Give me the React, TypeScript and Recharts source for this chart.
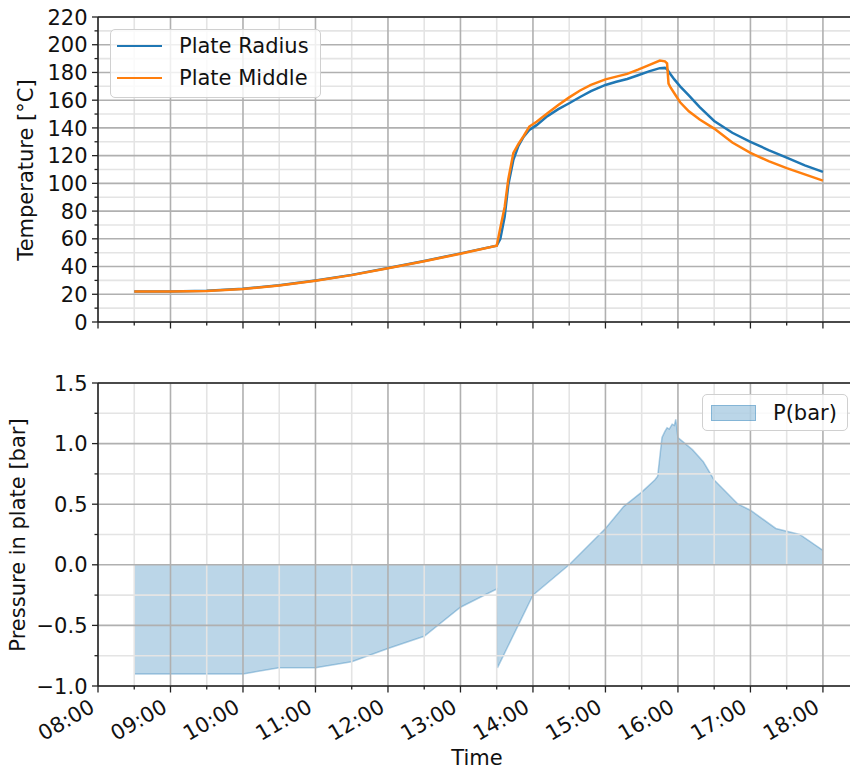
import React from 'react';
import { LineChart, Line, AreaChart, Area, XAxis, YAxis, ReferenceLine, Legend } from 'recharts';

const FONT = '"DejaVu Sans", sans-serif';
const INK = '#111';
const SPINE = '#222';
const GRID_MAJOR = '#b0b0b0';
const GRID_MINOR = '#e4e4e4';
const BLUE = '#1f77b4';
const ORANGE = '#ff7f0e';

// temperature log (time in decimal hours)
const tempHours = [
  8.5, 9, 9.5, 10, 10.5, 11, 11.5, 12, 12.5, 13, 13.5,
  13.55, 13.61, 13.66, 13.73, 13.8, 13.87, 13.95, 14.05, 14.2, 14.35, 14.5, 14.65, 14.8,
  15, 15.15, 15.3, 15.45, 15.6, 15.75, 15.82, 15.85, 15.87, 15.9, 15.95,
  16.03, 16.15, 16.3, 16.5, 16.75, 17, 17.25, 17.5, 17.75, 18,
];
const plateRadius = [
  22, 22, 22.5, 24, 26.5, 30, 34, 39, 44, 49.5, 55,
  60, 76, 99, 117, 127, 133.5, 138.5, 142, 148.5, 153.5, 157.8, 162.3, 166.5,
  171, 173.3, 175.3, 178, 180.8, 183.1, 183.3, 182.3, 180.8, 178.5, 175,
  170, 163.5, 155, 145, 136.5, 130, 124, 118.5, 113, 108.3,
];
const plateMiddle = [
  22, 22, 22.3, 23.8, 26.3, 29.8, 33.8, 38.8, 43.8, 49.3, 55,
  68, 83, 103, 122, 128.5, 134, 141, 144.5, 150.5, 156.5, 162, 167, 171,
  175, 177, 179, 182, 185.3, 188.6, 188, 186.5, 172, 169, 165,
  158.5, 152, 146, 139.5, 129.5, 122, 116, 111, 106.5, 102,
];

// pressure log
const pressureHours = [
  8.5, 10, 10.5, 11, 11.5, 12, 12.5, 13, 13.5, 13.51, 14, 14.5, 15, 15.25, 15.5, 15.68,
  15.72, 15.78, 15.82, 15.85, 15.88, 15.92, 15.95, 15.97, 16, 16.2, 16.35, 16.5, 16.83,
  17, 17.35, 17.68, 18,
];
const pressureBar = [
  -0.9, -0.9, -0.85, -0.85, -0.8, -0.69, -0.59, -0.35, -0.2, -0.85, -0.25, 0, 0.3, 0.48, 0.6, 0.7,
  0.73, 1.05, 1.1, 1.13, 1.12, 1.16, 1.15, 1.2, 1.05, 0.95, 0.85, 0.7, 0.5,
  0.45, 0.3, 0.25, 0.12,
];

const hourTicks = [8, 9, 10, 11, 12, 13, 14, 15, 16, 17, 18];
const hourLabels = ['08:00', '09:00', '10:00', '11:00', '12:00', '13:00', '14:00', '15:00', '16:00', '17:00', '18:00'];
const halfHourTicks = [8.5, 9.5, 10.5, 11.5, 12.5, 13.5, 14.5, 15.5, 16.5, 17.5];
const tempTicks = [0, 20, 40, 60, 80, 100, 120, 140, 160, 180, 200, 220];
const tempMinorTicks = [10, 30, 50, 70, 90, 110, 130, 150, 170, 190, 210];
const pressureTicks = [-1, -0.5, 0, 0.5, 1, 1.5];
const pressureMinorTicks = [-0.75, -0.25, 0.25, 0.75, 1.25];

const tempData = tempHours.map((t, i) => ({ t, radius: plateRadius[i], middle: plateMiddle[i] }));
const pressureData = pressureHours.map((t, i) => ({ t, p: pressureBar[i] }));

const X_DOMAIN: [number, number] = [8, 18.47];
const CHART_W = 857;

const fmtPressure = (v: number) => v.toFixed(1).replace('-', '\u2212');

function TimeTick(props: any) {
  const { x, y, payload, withLabel } = props;
  const i = hourTicks.indexOf(payload.value);
  const major = i >= 0;
  const lx = x - 2;
  const ly = y + 25;
  return (
    <g>
      <line x1={x} x2={x} y1={y} y2={y + (major ? 6.5 : 3.5)} stroke={SPINE} strokeWidth={1.3} />
      {withLabel && major && (
        <text x={lx} y={ly} transform={`rotate(-30 ${lx} ${ly})`} textAnchor="end"
          fontSize={21} fill={INK} fontFamily={FONT}>
          {hourLabels[i]}
        </text>
      )}
    </g>
  );
}

function ValueTick(props: any) {
  const { x, y, payload, majors, format } = props;
  const major = majors.includes(payload.value);
  return (
    <g>
      <line x1={x - (major ? 6 : 3.5)} x2={x} y1={y} y2={y} stroke={SPINE} strokeWidth={1.3} />
      {major && (
        <text x={x - 10.5} y={y + 7.6} textAnchor="end" fontSize={21} fill={INK} fontFamily={FONT}>
          {format(payload.value)}
        </text>
      )}
    </g>
  );
}

function gridLines(xMinor: number[], xMajor: number[], yMinor: number[], yMajor: number[]) {
  return [
    ...xMinor.map((v) => <ReferenceLine key={`xm${v}`} x={v} stroke={GRID_MINOR} strokeWidth={1.6} />),
    ...yMinor.map((v) => <ReferenceLine key={`ym${v}`} y={v} stroke={GRID_MINOR} strokeWidth={1.6} />),
    ...xMajor.map((v) => <ReferenceLine key={`xM${v}`} x={v} stroke={GRID_MAJOR} strokeWidth={1.6} />),
    ...yMajor.map((v) => <ReferenceLine key={`yM${v}`} y={v} stroke={GRID_MAJOR} strokeWidth={1.6} />),
  ];
}

const legendBox: React.CSSProperties = {
  boxSizing: 'border-box',
  background: 'rgba(255,255,255,0.8)',
  border: '1px solid #d0d0d0',
  borderRadius: 5,
  fontFamily: FONT,
  fontSize: 21,
  color: INK,
};

function TempLegend() {
  const rows = [
    { name: 'Plate Radius', color: BLUE },
    { name: 'Plate Middle', color: ORANGE },
  ];
  return (
    <div style={{ ...legendBox, width: 211, height: 69 }}>
      {rows.map((r) => (
        <div key={r.name} style={{ display: 'flex', alignItems: 'center', height: 32 }}>
          <div style={{ marginLeft: 6, width: 45, height: 2.5, background: r.color }} />
          <span style={{ marginLeft: 17, lineHeight: '32px' }}>{r.name}</span>
        </div>
      ))}
    </div>
  );
}

function PressureLegend() {
  return (
    <div style={{ ...legendBox, width: 146, height: 37, display: 'flex', alignItems: 'center' }}>
      <div style={{
        marginLeft: 8, width: 45, height: 16, boxSizing: 'border-box',
        background: 'rgba(31,119,180,0.3)', border: '1px solid rgba(31,119,180,0.35)',
      }} />
      <span style={{ marginLeft: 17 }}>P(bar)</span>
    </div>
  );
}

export default function App() {
  return (
    <div style={{
      position: 'absolute', left: 0, top: 0, width: 850, height: 771,
      overflow: 'hidden', background: '#fff', fontFamily: FONT,
    }}>
      <div style={{ position: 'absolute', left: 0, top: 0 }}>
        <LineChart width={CHART_W} height={345} data={tempData}
          margin={{ top: 17, right: 0, bottom: 22, left: 0 }}>
          <XAxis dataKey="t" type="number" domain={X_DOMAIN} allowDataOverflow
            ticks={[...hourTicks, ...halfHourTicks]} interval={0} height={1}
            tickSize={0} tickMargin={0} tickLine={false}
            axisLine={{ stroke: SPINE, strokeWidth: 1.5 }}
            tick={(p: any) => <TimeTick {...p} withLabel={false} />} />
          <YAxis type="number" domain={[0, 220]} allowDataOverflow width={98}
            ticks={[...tempTicks, ...tempMinorTicks]} interval={0}
            tickSize={0} tickMargin={0} tickLine={false}
            axisLine={{ stroke: SPINE, strokeWidth: 1.5 }}
            tick={(p: any) => <ValueTick {...p} majors={tempTicks} format={(v: number) => String(v)} />}
            label={() => (
              <text x={33} y={170} transform="rotate(-90 33 170)" textAnchor="middle"
                fontSize={21} fill={INK} fontFamily={FONT}>
                Temperature [°C]
              </text>
            )} />
          {gridLines(halfHourTicks, hourTicks, tempMinorTicks, tempTicks)}
          <ReferenceLine y={220} stroke={SPINE} strokeWidth={1.5} />
          <Line type="linear" dataKey="radius" name="Plate Radius" stroke={BLUE} strokeWidth={2.5}
            dot={false} activeDot={false} isAnimationActive={false} />
          <Line type="linear" dataKey="middle" name="Plate Middle" stroke={ORANGE} strokeWidth={2.5}
            dot={false} activeDot={false} isAnimationActive={false} />
          <Legend layout="vertical" align="center" verticalAlign="middle"
            wrapperStyle={{ left: 110, top: 29, width: 211, height: 69 }}
            content={() => <TempLegend />} />
        </LineChart>
      </div>

      <div style={{ position: 'absolute', left: 0, top: 345 }}>
        <AreaChart width={CHART_W} height={426} data={pressureData}
          margin={{ top: 38, right: 0, bottom: 84, left: 0 }}>
          <XAxis dataKey="t" type="number" domain={X_DOMAIN} allowDataOverflow
            ticks={[...hourTicks, ...halfHourTicks]} interval={0} height={1}
            tickSize={0} tickMargin={0} tickLine={false}
            axisLine={{ stroke: SPINE, strokeWidth: 1.5 }}
            tick={(p: any) => <TimeTick {...p} withLabel />}
            label={() => (
              <text x={477} y={420} textAnchor="middle" fontSize={21} fill={INK} fontFamily={FONT}>
                Time
              </text>
            )} />
          <YAxis type="number" domain={[-1, 1.5]} allowDataOverflow width={98}
            ticks={[...pressureTicks, ...pressureMinorTicks]} interval={0}
            tickSize={0} tickMargin={0} tickLine={false}
            axisLine={{ stroke: SPINE, strokeWidth: 1.5 }}
            tick={(p: any) => <ValueTick {...p} majors={pressureTicks} format={fmtPressure} />}
            label={() => (
              <text x={25} y={190} transform="rotate(-90 25 190)" textAnchor="middle"
                fontSize={21} fill={INK} fontFamily={FONT}>
                Pressure in plate [bar]
              </text>
            )} />
          {gridLines(halfHourTicks, hourTicks, pressureMinorTicks, pressureTicks)}
          <ReferenceLine y={1.5} stroke={SPINE} strokeWidth={1.5} />
          <Area type="linear" dataKey="p" name="P(bar)" baseValue={0}
            fill={BLUE} fillOpacity={0.3} stroke={BLUE} strokeOpacity={0.35} strokeWidth={1.5}
            dot={false} activeDot={false} isAnimationActive={false} />
          <Legend layout="vertical" align="center" verticalAlign="middle"
            wrapperStyle={{ left: 702, top: 49, width: 146, height: 37 }}
            content={() => <PressureLegend />} />
        </AreaChart>
      </div>
    </div>
  );
}
